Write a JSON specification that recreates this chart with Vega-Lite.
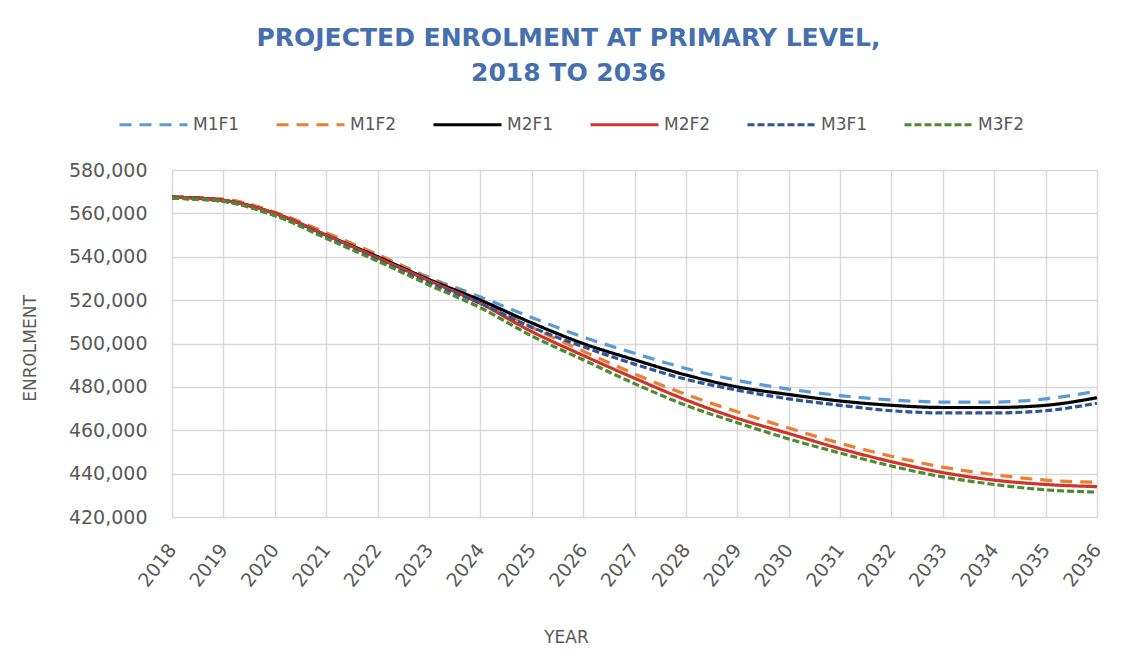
{
  "$schema": "https://vega.github.io/schema/vega-lite/v6.json",
  "width": 925,
  "height": 347,
  "autosize": {"type": "none"},
  "padding": {"left": 172, "top": 170, "right": 32, "bottom": 137},
  "background": "white",
  "title": {
    "text": ["PROJECTED ENROLMENT AT PRIMARY LEVEL,", "2018 TO 2036"],
    "font": "DejaVu Sans",
    "fontSize": 25,
    "fontWeight": "bold",
    "color": "#4570AD",
    "anchor": "middle",
    "frame": "group",
    "dx": -66,
    "lineHeight": 35,
    "offset": 3
  },
  "data": {
    "values": [
      {"year": 2018, "series": "M1F1", "value": 567500}, {"year": 2018, "series": "M1F2", "value": 567500}, {"year": 2018, "series": "M2F1", "value": 567500}, {"year": 2018, "series": "M2F2", "value": 567500}, {"year": 2018, "series": "M3F1", "value": 567000}, {"year": 2018, "series": "M3F2", "value": 567000},
      {"year": 2019, "series": "M1F1", "value": 566500}, {"year": 2019, "series": "M1F2", "value": 566500}, {"year": 2019, "series": "M2F1", "value": 566000}, {"year": 2019, "series": "M2F2", "value": 566000}, {"year": 2019, "series": "M3F1", "value": 565500}, {"year": 2019, "series": "M3F2", "value": 565500},
      {"year": 2020, "series": "M1F1", "value": 560500}, {"year": 2020, "series": "M1F2", "value": 560500}, {"year": 2020, "series": "M2F1", "value": 560000}, {"year": 2020, "series": "M2F2", "value": 560000}, {"year": 2020, "series": "M3F1", "value": 559000}, {"year": 2020, "series": "M3F2", "value": 559000},
      {"year": 2021, "series": "M1F1", "value": 551000}, {"year": 2021, "series": "M1F2", "value": 551000}, {"year": 2021, "series": "M2F1", "value": 550000}, {"year": 2021, "series": "M2F2", "value": 550000}, {"year": 2021, "series": "M3F1", "value": 549000}, {"year": 2021, "series": "M3F2", "value": 548500},
      {"year": 2022, "series": "M1F1", "value": 541000}, {"year": 2022, "series": "M1F2", "value": 541000}, {"year": 2022, "series": "M2F1", "value": 540000}, {"year": 2022, "series": "M2F2", "value": 539500}, {"year": 2022, "series": "M3F1", "value": 538500}, {"year": 2022, "series": "M3F2", "value": 538000},
      {"year": 2023, "series": "M1F1", "value": 530500}, {"year": 2023, "series": "M1F2", "value": 530000}, {"year": 2023, "series": "M2F1", "value": 529500}, {"year": 2023, "series": "M2F2", "value": 529000}, {"year": 2023, "series": "M3F1", "value": 528000}, {"year": 2023, "series": "M3F2", "value": 527000},
      {"year": 2024, "series": "M1F1", "value": 521500}, {"year": 2024, "series": "M1F2", "value": 520000}, {"year": 2024, "series": "M2F1", "value": 520000}, {"year": 2024, "series": "M2F2", "value": 518500}, {"year": 2024, "series": "M3F1", "value": 518500}, {"year": 2024, "series": "M3F2", "value": 516500},
      {"year": 2025, "series": "M1F1", "value": 512000}, {"year": 2025, "series": "M1F2", "value": 507500}, {"year": 2025, "series": "M2F1", "value": 509500}, {"year": 2025, "series": "M2F2", "value": 505500}, {"year": 2025, "series": "M3F1", "value": 507500}, {"year": 2025, "series": "M3F2", "value": 503500},
      {"year": 2026, "series": "M1F1", "value": 503000}, {"year": 2026, "series": "M1F2", "value": 496500}, {"year": 2026, "series": "M2F1", "value": 500000}, {"year": 2026, "series": "M2F2", "value": 494500}, {"year": 2026, "series": "M3F1", "value": 498500}, {"year": 2026, "series": "M3F2", "value": 492500},
      {"year": 2027, "series": "M1F1", "value": 495500}, {"year": 2027, "series": "M1F2", "value": 486000}, {"year": 2027, "series": "M2F1", "value": 492500}, {"year": 2027, "series": "M2F2", "value": 484000}, {"year": 2027, "series": "M3F1", "value": 490500}, {"year": 2027, "series": "M3F2", "value": 481500},
      {"year": 2028, "series": "M1F1", "value": 488500}, {"year": 2028, "series": "M1F2", "value": 476500}, {"year": 2028, "series": "M2F1", "value": 485500}, {"year": 2028, "series": "M2F2", "value": 474000}, {"year": 2028, "series": "M3F1", "value": 483500}, {"year": 2028, "series": "M3F2", "value": 471500},
      {"year": 2029, "series": "M1F1", "value": 483000}, {"year": 2029, "series": "M1F2", "value": 468500}, {"year": 2029, "series": "M2F1", "value": 480000}, {"year": 2029, "series": "M2F2", "value": 465500}, {"year": 2029, "series": "M3F1", "value": 478500}, {"year": 2029, "series": "M3F2", "value": 463500},
      {"year": 2030, "series": "M1F1", "value": 479000}, {"year": 2030, "series": "M1F2", "value": 461000}, {"year": 2030, "series": "M2F1", "value": 476500}, {"year": 2030, "series": "M2F2", "value": 458500}, {"year": 2030, "series": "M3F1", "value": 474500}, {"year": 2030, "series": "M3F2", "value": 456000},
      {"year": 2031, "series": "M1F1", "value": 476000}, {"year": 2031, "series": "M1F2", "value": 454000}, {"year": 2031, "series": "M2F1", "value": 473500}, {"year": 2031, "series": "M2F2", "value": 451500}, {"year": 2031, "series": "M3F1", "value": 471500}, {"year": 2031, "series": "M3F2", "value": 449500},
      {"year": 2032, "series": "M1F1", "value": 474000}, {"year": 2032, "series": "M1F2", "value": 448000}, {"year": 2032, "series": "M2F1", "value": 471500}, {"year": 2032, "series": "M2F2", "value": 445500}, {"year": 2032, "series": "M3F1", "value": 469000}, {"year": 2032, "series": "M3F2", "value": 443500},
      {"year": 2033, "series": "M1F1", "value": 473000}, {"year": 2033, "series": "M1F2", "value": 443000}, {"year": 2033, "series": "M2F1", "value": 470500}, {"year": 2033, "series": "M2F2", "value": 440500}, {"year": 2033, "series": "M3F1", "value": 468000}, {"year": 2033, "series": "M3F2", "value": 438500},
      {"year": 2034, "series": "M1F1", "value": 473000}, {"year": 2034, "series": "M1F2", "value": 439500}, {"year": 2034, "series": "M2F1", "value": 470500}, {"year": 2034, "series": "M2F2", "value": 437000}, {"year": 2034, "series": "M3F1", "value": 468000}, {"year": 2034, "series": "M3F2", "value": 435000},
      {"year": 2035, "series": "M1F1", "value": 474500}, {"year": 2035, "series": "M1F2", "value": 437000}, {"year": 2035, "series": "M2F1", "value": 471500}, {"year": 2035, "series": "M2F2", "value": 435000}, {"year": 2035, "series": "M3F1", "value": 469000}, {"year": 2035, "series": "M3F2", "value": 432500},
      {"year": 2036, "series": "M1F1", "value": 478000}, {"year": 2036, "series": "M1F2", "value": 436000}, {"year": 2036, "series": "M2F1", "value": 475000}, {"year": 2036, "series": "M2F2", "value": 434000}, {"year": 2036, "series": "M3F1", "value": 472500}, {"year": 2036, "series": "M3F2", "value": 431500}
    ]
  },
  "mark": {"type": "line", "interpolate": "monotone", "strokeWidth": 3.2},
  "encoding": {
    "x": {
      "field": "year",
      "type": "ordinal",
      "scale": {"type": "point", "padding": 0},
      "axis": {
        "title": "YEAR",
        "titleFont": "DejaVu Sans",
        "titleFontSize": 17,
        "titleFontWeight": "normal",
        "titleColor": "#595959",
        "titleX": 394,
        "titleY": 120,
        "titleBaseline": "middle",
        "labelFont": "DejaVu Sans",
        "labelFontSize": 19,
        "labelColor": "#595959",
        "labelAngle": -52,
        "labelAlign": "right",
        "labelBaseline": "middle",
        "labelPadding": 29,
        "ticks": false,
        "domain": false,
        "grid": true,
        "gridColor": "#d9d9d9",
        "gridWidth": 1.5
      }
    },
    "y": {
      "field": "value",
      "type": "quantitative",
      "scale": {"domain": [420000, 580000], "nice": false, "zero": false},
      "axis": {
        "title": "ENROLMENT",
        "titleFont": "DejaVu Sans",
        "titleFontSize": 17,
        "titleFontWeight": "normal",
        "titleColor": "#595959",
        "titleX": -142,
        "titleY": 178,
        "titleBaseline": "middle",
        "values": [420000, 440000, 460000, 480000, 500000, 520000, 540000, 560000, 580000],
        "format": ",.0f",
        "labelFont": "DejaVu Sans",
        "labelFontSize": 19,
        "labelColor": "#595959",
        "labelPadding": 25,
        "ticks": false,
        "domain": false,
        "grid": true,
        "gridColor": "#d9d9d9",
        "gridWidth": 1.5
      }
    },
    "color": {
      "field": "series",
      "type": "nominal",
      "scale": {
        "domain": ["M1F1", "M1F2", "M2F1", "M2F2", "M3F1", "M3F2"],
        "range": ["#5B9BD5", "#ED7D31", "#000000", "#D0342C", "#2E5597", "#4E8A2E"]
      },
      "legend": {
        "title": null,
        "orient": "none",
        "direction": "horizontal",
        "legendX": -54,
        "legendY": -81,
        "symbolType": "stroke",
        "symbolSize": 4624,
        "symbolStrokeWidth": 3,
        "labelFont": "DejaVu Sans",
        "labelFontSize": 17,
        "labelColor": "#595959",
        "labelOffset": 4,
        "columnPadding": 30,
        "padding": 0
      }
    },
    "strokeDash": {
      "field": "series",
      "type": "nominal",
      "scale": {
        "domain": ["M1F1", "M1F2", "M2F1", "M2F2", "M3F1", "M3F2"],
        "range": [[12, 8], [12, 8], [1, 0], [1, 0], [7, 3], [7, 3]]
      },
      "legend": null
    }
  },
  "config": {"view": {"stroke": null}}
}
